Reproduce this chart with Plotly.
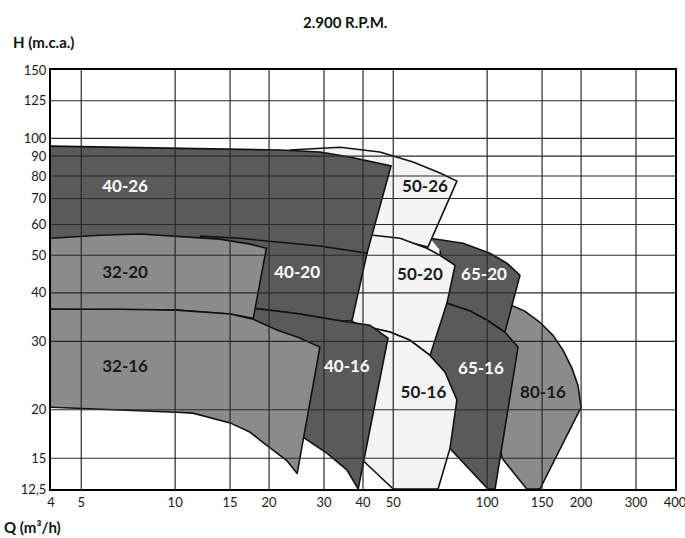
import math
import plotly.graph_objects as go

# ---------------- axis ticks ----------------
Q_TICKS = [4, 5, 10, 15, 20, 30, 40, 50, 100, 150, 200, 300, 400]
H_TICKS = [12.5, 15, 20, 30, 40, 50, 60, 70, 80, 90, 100, 125, 150]
H_TICK_TEXT = ["12,5", "15", "20", "30", "40", "50", "60", "70", "80", "90", "100", "125", "150"]

# ---------------- pump working zones (Q m3/h, H m.c.a.) ----------------
Q_80_16 = [106, 115.7, 132, 147.6, 162.5, 175, 186.9, 195.5, 200, 147.6, 134, 111.6, 105]
H_80_16 = [38.3, 37.6, 35.9, 33.6, 31.1, 28.5, 25.6, 23.1, 20.3, 12.5, 12.5, 15.0, 21]

Q_65_20 = [65.6, 83.7, 102, 115.7, 127.4, 114, 100, 88.1, 74.3, 70.6]
H_65_20 = [55.3, 53.7, 50.6, 47.7, 44.4, 31.7, 34.0, 35.9, 37.6, 51.5]

Q_65_16 = [74.3, 88.1, 100, 114, 125.6, 106, 100.6, 74.9, 65.6]
H_65_16 = [37.6, 35.9, 34.0, 31.7, 29.0, 12.5, 12.5, 16.1, 27.6]

Q_50_26 = [23.3, 26.5, 33.8, 45.3, 57.9, 70.6, 80.0, 64.6, 52.6, 42.1, 23.3]
H_50_26 = [93.3, 93.9, 94.9, 92.2, 86.9, 81.4, 77.6, 52.5, 54.7, 54.7, 54.7]

Q_50_20 = [43.1, 52.6, 64.1, 70.6, 78.9, 74.3, 65.6, 56.6, 48.8, 39.1, 36.3, 39.1]
H_50_20 = [56.3, 55.3, 52.1, 50.0, 47.1, 37.6, 27.6, 30.2, 31.7, 33.0, 34.0, 54.7]

Q_50_16 = [33.8, 39.1, 48.8, 56.6, 65.6, 73.3, 80.0, 76.0, 69.6, 50.0, 40.0, 31.3]
H_50_16 = [32.5, 33.0, 31.7, 30.2, 27.6, 25.0, 21.2, 15.9, 12.5, 12.5, 14.8, 16.7]

Q_40_26 = [4, 6.66, 10.1, 16.1, 21.7, 29.1, 36.3, 49.2, 41.2, 30, 4]
H_40_26 = [95.5, 94.9, 94.4, 93.9, 93.3, 92.2, 89.5, 84.9, 50.6, 50.5, 50.5]

Q_40_20 = [12.0, 16.1, 21.7, 29.1, 41.2, 36.9, 34.5, 23.9, 17.8, 12.0]
H_40_20 = [56.0, 55.3, 54.0, 52.8, 50.6, 34.0, 33.8, 35.5, 36.5, 40]

Q_40_16 = [17.8, 23.9, 34.5, 42.1, 48.1, 38.6, 35.5, 30.7, 25.7, 23.3, 17.4]
H_40_16 = [36.5, 35.5, 33.8, 33.0, 30.6, 12.5, 14.0, 15.45, 17.0, 18.8, 36.1]

Q_32_20 = [4, 5.74, 7.71, 10.1, 13.9, 17.4, 19.6, 17.8, 15, 10.1, 4]
H_32_20 = [55.3, 56.3, 56.7, 56.0, 55.0, 53.4, 52.1, 34.4, 35.3, 36.1, 36.3]

Q_32_16 = [4, 6.66, 10.1, 15, 17.8, 21.2, 25.1, 29.1, 24.6, 22.8, 18.7, 17.4, 15, 11.4, 10.1, 5, 4]
H_32_16 = [36.3, 36.3, 36.1, 35.3, 34.2, 32.1, 30.6, 29.0, 13.7, 14.8, 16.7, 17.5, 18.5, 19.6, 19.7, 20.1, 20.3]

MODELS = ["80-16", "65-20", "65-16", "50-26", "50-20", "50-16",
          "40-26", "40-20", "40-16", "32-20", "32-16"]
ZONE_Q = [Q_80_16, Q_65_20, Q_65_16, Q_50_26, Q_50_20, Q_50_16,
          Q_40_26, Q_40_20, Q_40_16, Q_32_20, Q_32_16]
ZONE_H = [H_80_16, H_65_20, H_65_16, H_50_26, H_50_20, H_50_16,
          H_40_26, H_40_20, H_40_16, H_32_20, H_32_16]

# label anchor points (Q, H)
LABEL_Q = [151, 97.7, 95.5, 63.2, 60.9, 62.5, 6.91, 24.6, 35.5, 6.91, 6.91]
LABEL_H = [22.05, 44.4, 25.4, 74.5, 44.4, 22.05, 74.5, 44.7, 25.6, 44.7, 25.6]

# ---------------- styles ----------------
DARK, MID, LIGHT = "#5a5a5a", "#8b8b8b", "#f3f3f3"
FILL = {"80-16": MID, "65-20": DARK, "65-16": DARK, "50-26": LIGHT, "50-20": LIGHT,
        "50-16": LIGHT, "40-26": DARK, "40-20": DARK, "40-16": DARK,
        "32-20": MID, "32-16": MID}
TXT = {DARK: "#ffffff", MID: "#1a1a1a", LIGHT: "#1a1a1a"}

Q_MIN, Q_MAX = Q_TICKS[0], Q_TICKS[-1]
H_MIN, H_MAX = H_TICKS[0], H_TICKS[-1]

fig = go.Figure()

for name, qs, hs in zip(MODELS, ZONE_Q, ZONE_H):
    fig.add_trace(go.Scatter(
        x=qs, y=hs, mode="lines", fill="toself", fillcolor=FILL[name],
        line=dict(color="#111111", width=1.6), hoverinfo="skip", showlegend=False))

# grid drawn above the zones
gx, gy = [], []
for q in Q_TICKS[1:-1]:
    gx += [q, q, None]
    gy += [H_MIN, H_MAX, None]
for h in H_TICKS[1:-1]:
    gx += [Q_MIN, Q_MAX, None]
    gy += [h, h, None]
fig.add_trace(go.Scatter(x=gx, y=gy, mode="lines",
                         line=dict(color="#2a2a2a", width=1.2),
                         hoverinfo="skip", showlegend=False))

# zone labels
for name, lq, lh in zip(MODELS, LABEL_Q, LABEL_H):
    fig.add_trace(go.Scatter(
        x=[lq], y=[lh], mode="text", text=[name],
        textfont=dict(family="Lato", size=17, color=TXT[FILL[name]], weight="bold"),
        hoverinfo="skip", showlegend=False))

axis_font = dict(family="Lato", size=13, color="#1a1a1a")
fig.update_xaxes(type="log", range=[math.log10(Q_MIN), math.log10(Q_MAX)],
                 tickmode="array", tickvals=Q_TICKS, ticktext=[str(v) for v in Q_TICKS],
                 showgrid=False, zeroline=False, showline=True, mirror=True,
                 linecolor="#000000", linewidth=2, ticks="", tickfont=axis_font,
                 automargin=False, ticklabeloverflow="allow")
fig.update_yaxes(type="log", range=[math.log10(H_MIN), math.log10(H_MAX)],
                 tickmode="array", tickvals=H_TICKS, ticktext=H_TICK_TEXT,
                 showgrid=False, zeroline=False, showline=True, mirror=True,
                 linecolor="#000000", linewidth=2, ticks="", tickfont=axis_font,
                 automargin=False, ticklabeloverflow="allow")

fig.update_layout(
    width=685, height=538,
    margin=dict(l=51, r=10, t=70, b=49, autoexpand=False),
    paper_bgcolor="white", plot_bgcolor="white",
    showlegend=False,
    annotations=[
        dict(text="<b>2.900 R.P.M.</b>", xref="paper", yref="paper",
             x=0.471, y=1.1146, xanchor="center", yanchor="middle", showarrow=False,
             font=dict(family="Lato", size=15, color="#111111")),
        dict(text="<b>H (m.c.a.)</b>", xref="paper", yref="paper",
             x=-0.0641, y=1.0668, xanchor="left", yanchor="middle", showarrow=False,
             font=dict(family="Lato", size=15, color="#111111")),
        dict(text="<b>Q (m³/h)</b>", xref="paper", yref="paper",
             x=-0.0785, y=-0.0907, xanchor="left", yanchor="middle", showarrow=False,
             font=dict(family="Lato", size=15, color="#111111")),
    ],
)

# remove the default 8px page margin so the figure sits at the window origin
fig.write_html("out.html", config={"displayModeBar": False},
               post_script="document.body.style.margin='0px';")
